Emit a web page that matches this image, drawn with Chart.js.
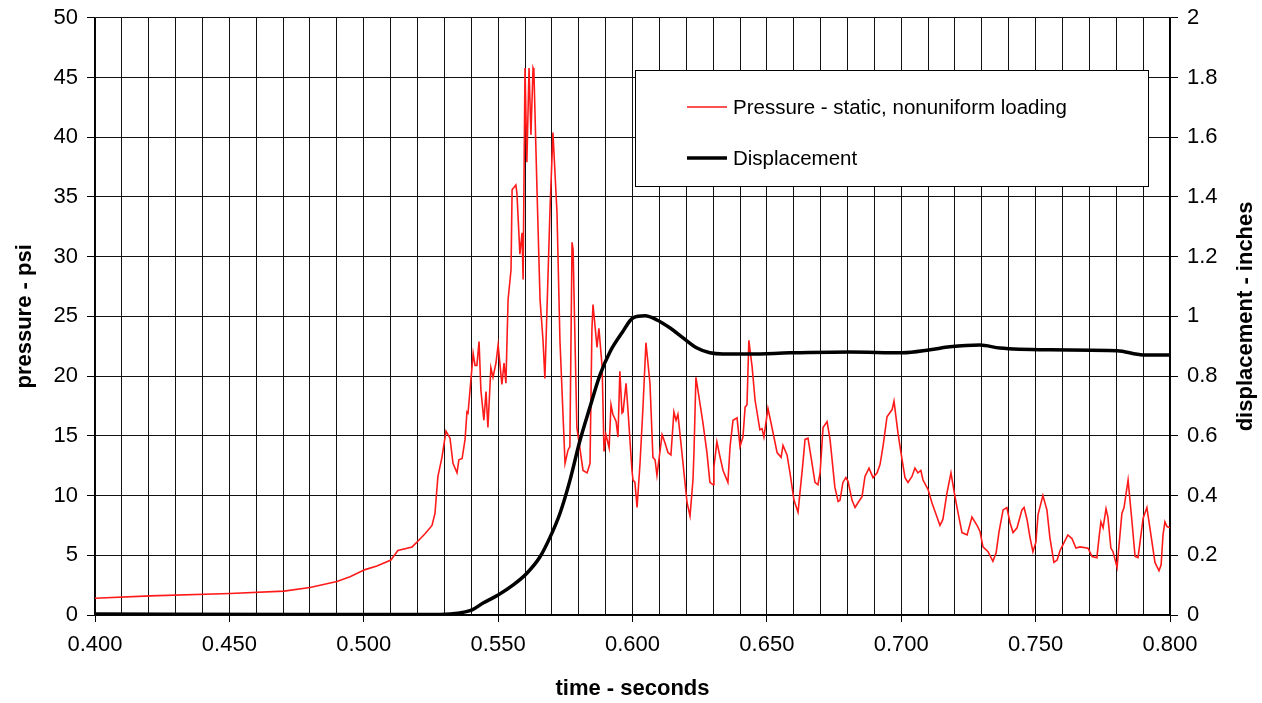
<!DOCTYPE html>
<html>
<head>
<meta charset="utf-8">
<title>Pressure and displacement</title>
<script src="https://cdn.jsdelivr.net/npm/chart.js@4/dist/chart.umd.min.js"></script>
<style>
  html, body { margin: 0; padding: 0; background: #fff; }
  #wrap { width: 1262px; height: 703px; }
</style>
</head>
<body>
<div id="wrap"><canvas id="chart" width="1262" height="703"></canvas></div>
<script>
// pressure trace (psi) vs time (s)
const pressureTime = [
  0.4000, 0.4205, 0.4502, 0.4703, 0.4800, 0.4900, 0.4949, 0.5005, 0.5049, 0.5101,
  0.5127, 0.5180, 0.5202, 0.5228, 0.5254, 0.5265, 0.5276, 0.5291, 0.5306, 0.5321,
  0.5332, 0.5347, 0.5354, 0.5366, 0.5377, 0.5384, 0.5388, 0.5403, 0.5407, 0.5414,
  0.5421, 0.5429, 0.5436, 0.5447, 0.5455, 0.5462, 0.5473, 0.5481, 0.5492, 0.5500,
  0.5514, 0.5522, 0.5529, 0.5537, 0.5548, 0.5552, 0.5566, 0.5570, 0.5581, 0.5589,
  0.5593, 0.5600, 0.5607, 0.5615, 0.5622, 0.5630, 0.5633, 0.5645, 0.5656, 0.5667,
  0.5674, 0.5693, 0.5704, 0.5719, 0.5730, 0.5749, 0.5760, 0.5767, 0.5775, 0.5779,
  0.5786, 0.5793, 0.5816, 0.5831, 0.5842, 0.5849, 0.5853, 0.5868, 0.5875, 0.5887,
  0.5894, 0.5901, 0.5913, 0.5920, 0.5927, 0.5939, 0.5946, 0.5953, 0.5961, 0.5965,
  0.5976, 0.5983, 0.5998, 0.6002, 0.6009, 0.6017, 0.6028, 0.6039, 0.6050, 0.6065,
  0.6076, 0.6084, 0.6091, 0.6095, 0.6110, 0.6121, 0.6132, 0.6143, 0.6154, 0.6162,
  0.6169, 0.6177, 0.6188, 0.6203, 0.6214, 0.6225, 0.6229, 0.6236, 0.6247, 0.6262,
  0.6277, 0.6288, 0.6300, 0.6303, 0.6314, 0.6326, 0.6337, 0.6355, 0.6363, 0.6374,
  0.6389, 0.6400, 0.6411, 0.6419, 0.6426, 0.6433, 0.6445, 0.6456, 0.6474, 0.6482,
  0.6489, 0.6504, 0.6519, 0.6538, 0.6553, 0.6560, 0.6575, 0.6586, 0.6601, 0.6616,
  0.6623, 0.6634, 0.6642, 0.6653, 0.6668, 0.6679, 0.6690, 0.6698, 0.6709, 0.6724,
  0.6735, 0.6753, 0.6765, 0.6772, 0.6783, 0.6794, 0.6802, 0.6817, 0.6828, 0.6839,
  0.6854, 0.6865, 0.6880, 0.6895, 0.6910, 0.6921, 0.6932, 0.6947, 0.6966, 0.6973,
  0.6988, 0.7003, 0.7014, 0.7025, 0.7040, 0.7051, 0.7062, 0.7073, 0.7081, 0.7100,
  0.7114, 0.7133, 0.7144, 0.7155, 0.7170, 0.7185, 0.7200, 0.7211, 0.7226, 0.7245,
  0.7263, 0.7282, 0.7293, 0.7304, 0.7323, 0.7341, 0.7353, 0.7364, 0.7379, 0.7393,
  0.7405, 0.7416, 0.7431, 0.7449, 0.7457, 0.7468, 0.7479, 0.7490, 0.7501, 0.7509,
  0.7527, 0.7542, 0.7553, 0.7568, 0.7580, 0.7591, 0.7602, 0.7620, 0.7635, 0.7650,
  0.7665, 0.7695, 0.7710, 0.7728, 0.7736, 0.7743, 0.7751, 0.7762, 0.7769, 0.7780,
  0.7788, 0.7803, 0.7821, 0.7829, 0.7844, 0.7859, 0.7870, 0.7881, 0.7892, 0.7900,
  0.7914, 0.7933, 0.7944, 0.7959, 0.7967, 0.7974, 0.7981, 0.7989, 0.8000
];
const pressure = [
  1.4, 1.6, 1.8, 2.0, 2.3, 2.8, 3.2, 3.8, 4.1, 4.6,
  5.4, 5.7, 6.2, 6.8, 7.5, 8.5, 11.6, 13.2, 15.4, 14.8,
  12.7, 11.9, 13.0, 13.1, 14.7, 17.0, 16.9, 20.8, 21.9, 20.9,
  20.9, 22.9, 18.8, 16.3, 18.7, 15.7, 20.7, 19.9, 21.1, 22.6,
  19.3, 21.1, 19.4, 26.4, 28.9, 35.6, 36.0, 35.3, 30.2, 32.0,
  28.1, 45.8, 37.9, 45.8, 40.2, 45.8, 45.6, 35.3, 26.4, 23.0,
  19.8, 33.9, 40.4, 33.7, 23.0, 12.7, 13.8, 14.1, 31.2, 30.6,
  23.0, 15.7, 12.1, 11.9, 12.7, 23.9, 26.0, 22.4, 24.0, 20.8,
  13.7, 15.1, 14.0, 17.6, 16.8, 16.2, 14.9, 20.4, 16.9, 17.0,
  19.4, 17.2, 12.1, 11.3, 11.1, 9.0, 12.7, 17.4, 22.8, 19.4,
  13.2, 13.0, 11.7, 12.4, 15.1, 14.4, 13.6, 13.4, 17.0, 16.3,
  16.8, 15.1, 12.7, 9.4, 8.3, 11.3, 13.8, 19.9, 18.3, 16.1,
  13.6, 11.1, 10.9, 12.4, 14.5, 13.2, 12.1, 11.1, 14.1, 16.3,
  16.5, 14.1, 14.9, 17.4, 17.6, 23.0, 20.8, 18.0, 15.5, 15.6,
  14.9, 17.3, 15.7, 13.6, 13.2, 14.2, 13.4, 11.9, 9.6, 8.6,
  10.2, 12.7, 14.7, 14.8, 12.7, 11.1, 10.9, 11.9, 15.7, 16.2,
  14.7, 10.7, 9.5, 9.6, 11.1, 11.5, 11.2, 9.6, 9.0, 9.4,
  9.9, 11.6, 12.3, 11.5, 11.9, 12.6, 14.1, 16.6, 17.2, 17.9,
  15.2, 13.0, 11.5, 11.1, 11.6, 12.3, 11.9, 12.1, 11.3, 10.5,
  9.4, 8.2, 7.5, 8.0, 10.2, 11.9, 9.9, 8.6, 6.9, 6.7,
  8.2, 7.5, 7.0, 5.7, 5.3, 4.5, 5.2, 7.0, 8.8, 9.0,
  7.7, 6.9, 7.3, 8.8, 9.0, 8.0, 6.5, 5.3, 6.1, 8.4,
  10.0, 8.8, 6.5, 4.4, 4.6, 5.4, 5.9, 6.7, 6.4, 5.6,
  5.7, 5.6, 4.9, 4.8, 6.5, 7.8, 7.3, 8.9, 8.2, 5.6,
  5.3, 4.0, 8.5, 9.0, 11.3, 7.7, 4.9, 4.8, 6.7, 8.1,
  9.0, 6.1, 4.4, 3.7, 4.2, 6.7, 7.8, 7.4, 7.3
];

// displacement (inches) vs time (s)
const displacementTime = [
  0.4000, 0.4763, 0.5284, 0.5358, 0.5403, 0.5444, 0.5500, 0.5555, 0.5607, 0.5656,
  0.5693, 0.5730, 0.5767, 0.5805, 0.5842, 0.5879, 0.5916, 0.5961, 0.6002, 0.6047,
  0.6091, 0.6140, 0.6188, 0.6240, 0.6288, 0.6337, 0.6437, 0.6586, 0.6809, 0.7006,
  0.7107, 0.7181, 0.7293, 0.7367, 0.7553, 0.7803, 0.7900, 0.8000
];
const displacement = [
  0.003, 0.002, 0.002, 0.007, 0.017, 0.040, 0.067, 0.100, 0.140, 0.195,
  0.260, 0.340, 0.450, 0.586, 0.697, 0.804, 0.881, 0.945, 0.995, 1.002,
  0.988, 0.961, 0.928, 0.894, 0.878, 0.874, 0.874, 0.878, 0.881, 0.878,
  0.888, 0.898, 0.904, 0.894, 0.888, 0.885, 0.871, 0.871
];

const seriesNames = ['Pressure - static, nonuniform loading', 'Displacement'];
const seriesColors = ['#ff1a1a', '#000000'];
const xTitle = 'time - seconds';
const yTitle = 'pressure - psi';
const y2Title = 'displacement - inches';

const FONT = '"Liberation Sans", Arial, sans-serif';

const legendBox = {
  id: 'legendBox',
  afterDatasetsDraw(chart) {
    const ctx = chart.ctx;
    ctx.save();
    ctx.fillStyle = '#fff';
    ctx.fillRect(635.5, 70.5, 513, 116);
    ctx.strokeStyle = '#000';
    ctx.lineWidth = 1;
    ctx.strokeRect(635.5, 70.5, 513, 116);
    const rows = [107, 158];
    const widths = [1.5, 3.5];
    ctx.font = '20.5px ' + FONT;
    ctx.textBaseline = 'middle';
    ctx.textAlign = 'left';
    rows.forEach((y, i) => {
      ctx.beginPath();
      ctx.strokeStyle = seriesColors[i];
      ctx.lineWidth = widths[i];
      ctx.moveTo(687, y);
      ctx.lineTo(727, y);
      ctx.stroke();
      ctx.fillStyle = '#000';
      ctx.fillText(seriesNames[i], 733, y + 1);
    });
    ctx.restore();
  },
  afterDraw(chart) {
    // right axis title reads bottom-to-top like the left one
    const ctx = chart.ctx;
    const a = chart.chartArea;
    ctx.save();
    ctx.translate(1246, (a.top + a.bottom) / 2);
    ctx.rotate(-Math.PI / 2);
    ctx.font = 'bold 22px ' + FONT;
    ctx.fillStyle = '#000';
    ctx.textAlign = 'center';
    ctx.textBaseline = 'middle';
    ctx.fillText(y2Title, 0, 0);
    ctx.restore();
  }
};

const isMajor = v => Math.round(v * 1000) % 50 === 0;

new Chart(document.getElementById('chart'), {
  type: 'line',
  data: {
    datasets: [
      {
        label: seriesNames[0],
        data: pressureTime.map((t, i) => ({ x: t, y: pressure[i] })),
        borderColor: seriesColors[0],
        borderWidth: 1.6,
        pointRadius: 0,
        tension: 0,
        yAxisID: 'y',
        order: 1
      },
      {
        label: seriesNames[1],
        data: displacementTime.map((t, i) => ({ x: t, y: displacement[i] })),
        borderColor: seriesColors[1],
        borderWidth: 3.5,
        pointRadius: 0,
        cubicInterpolationMode: 'monotone',
        yAxisID: 'y2',
        order: 0
      }
    ]
  },
  options: {
    responsive: false,
    animation: false,
    devicePixelRatio: 1,
    layout: { padding: { top: 14, left: 0, right: 0, bottom: 0 } },
    plugins: {
      legend: { display: false },
      tooltip: { enabled: false }
    },
    scales: {
      x: {
        type: 'linear',
        min: 0.4,
        max: 0.8,
        afterFit(s) { s.height = 88; },
        border: { color: '#000', width: 1.5 },
        grid: {
          color: '#111',
          lineWidth: 1,
          tickLength: 7,
          tickColor: c => (isMajor(c.tick.value) ? '#000' : 'rgba(0,0,0,0)')
        },
        ticks: {
          stepSize: 0.01,
          autoSkip: false,
          maxRotation: 0,
          padding: 10,
          color: '#000',
          font: { family: FONT, size: 22 },
          callback: v => (isMajor(v) ? v.toFixed(3) : '')
        },
        title: {
          display: true,
          text: xTitle,
          color: '#000',
          font: { family: FONT, size: 22, weight: 'bold' },
          padding: { top: 0, bottom: 1 }
        }
      },
      y: {
        position: 'left',
        min: 0,
        max: 50,
        afterFit(s) { s.width = 95; },
        border: { color: '#000', width: 1.5 },
        grid: { color: '#111', lineWidth: 1, tickLength: 8, tickColor: '#000' },
        ticks: {
          stepSize: 5,
          padding: 9,
          color: '#000',
          font: { family: FONT, size: 22, lineHeight: 0.8 }
        },
        title: {
          display: true,
          text: yTitle,
          color: '#000',
          font: { family: FONT, size: 22, weight: 'bold' },
          padding: { top: 12, bottom: 0 }
        }
      },
      y2: {
        position: 'right',
        min: 0,
        max: 2,
        afterFit(s) { s.width = 92; },
        border: { color: '#000', width: 1.5 },
        grid: { drawOnChartArea: false, tickLength: 8, tickColor: '#000' },
        ticks: {
          stepSize: 0.2,
          padding: 9,
          color: '#000',
          font: { family: FONT, size: 22, lineHeight: 0.8 },
          callback: v => String(Number(v.toFixed(1)))
        }
      }
    }
  },
  plugins: [legendBox]
});
</script>
</body>
</html>
